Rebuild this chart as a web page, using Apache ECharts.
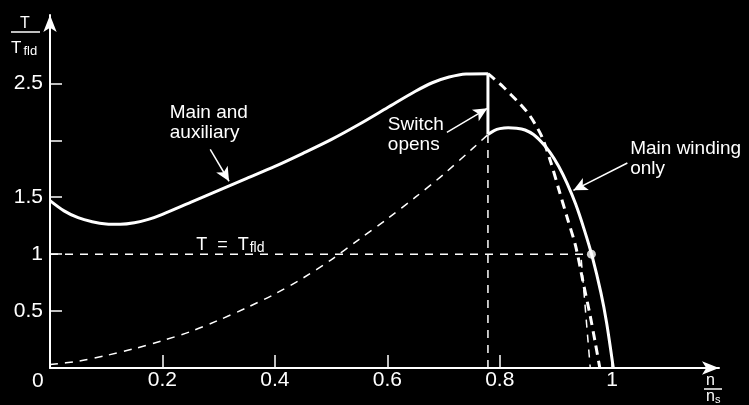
<!DOCTYPE html>
<html>
<head>
<meta charset="utf-8">
<script src="https://cdn.jsdelivr.net/npm/echarts@6/dist/echarts.min.js"></script>
<style>
html,body{margin:0;padding:0;background:#000;}
#c{width:749px;height:405px;}
</style>
</head>
<body>
<div id="c"></div>
<script>
// ---- data (n/ns, T/Tfld) ----
var mainAux = [[0,1.47],[0.025,1.38],[0.05,1.32],[0.075,1.285],[0.10,1.265],[0.125,1.262],[0.15,1.275],[0.175,1.305],[0.20,1.35],[0.25,1.455],[0.30,1.56],[0.35,1.665],[0.40,1.77],[0.45,1.885],[0.50,2.005],[0.55,2.14],[0.60,2.285],[0.65,2.43],[0.68,2.505],[0.71,2.555],[0.74,2.582],[0.779,2.585]];
var switchDrop = [[0.779,2.585],[0.779,2.05]];
var mainOnly = [[0.779,2.05],[0.79,2.085],[0.80,2.102],[0.815,2.11],[0.83,2.106],[0.845,2.09],[0.86,2.05],[0.875,1.98],[0.89,1.89],[0.905,1.77],[0.92,1.62],[0.935,1.44],[0.95,1.22],[0.965,0.97],[0.98,0.66],[0.99,0.40],[1.002,0.0]];
var mainAuxExt = [[0.779,2.585],[0.79,2.54],[0.806,2.47],[0.82,2.40],[0.836,2.32],[0.85,2.24],[0.862,2.15],[0.875,2.03],[0.89,1.82],[0.905,1.57],[0.92,1.32],[0.935,1.07],[0.948,0.76],[0.96,0.48],[0.97,0.22],[0.978,0]];
var loadCurve = [[0,0.03],[0.05,0.06],[0.10,0.11],[0.15,0.17],[0.20,0.24],[0.25,0.32],[0.30,0.42],[0.35,0.53],[0.40,0.65],[0.45,0.79],[0.50,0.95],[0.55,1.13],[0.60,1.31],[0.65,1.50],[0.70,1.70],[0.75,1.92],[0.779,2.05]];
var ratedLine = [[0,1],[0.95,1]];
var switchLine = [[0.779,0],[0.779,2.05]];
var dropLine = [[0.945,0.95],[0.961,0]];
var ratedPoint = [[0.963,1.0]];
var xTickLabels = [0.2,0.4,0.6,0.8,1];
var yTickLabels = [0.5,1,1.5,2.5];
var yTicks = [0.5,1,1.5,2,2.5];
// annotations: [text, n, T] (text box top-left) and arrows [from, to]
var notes = [
  ['Main and\nauxiliary', 0.213, 2.33],
  ['Switch\nopens', 0.601, 2.22],
  ['Main winding\nonly', 1.032, 2.01]
];
var arrows = [
  [[0.285,1.92],[0.3185,1.64]],
  [[0.706,2.07],[0.778,2.28]],
  [[1.027,1.80],[0.931,1.56]]
];

var W = '#ffffff';
var FONT = 'Liberation Sans';
var chart = echarts.init(document.getElementById('c'));

function lineSeries(data, width, dashed, smooth) {
  return {
    type: 'line', data: data, symbol: 'none', smooth: smooth || false,
    lineStyle: {color: W, width: width, type: dashed ? dashed : 'solid'},
    silent: true, animation: false
  };
}

var option = {
  backgroundColor: '#000',
  animation: false,
  grid: {left: 50, right: 30, top: 15, bottom: 37},
  xAxis: {
    type: 'value', min: 0, max: 1.19,
    splitLine: {show: false},
    axisLine: {lineStyle: {color: W, width: 2}, symbol: ['none', 'arrow'], symbolSize: [10, 17]},
    axisTick: {inside: true, length: 13, lineStyle: {color: W, width: 1.5}, customValues: xTickLabels},
    axisLabel: {color: W, fontSize: 21, fontFamily: FONT, margin: 2, customValues: xTickLabels}
  },
  yAxis: {
    type: 'value', min: 0, max: 3.1,
    splitLine: {show: false},
    axisLine: {lineStyle: {color: W, width: 2}, symbol: ['none', 'arrow'], symbolSize: [10, 17]},
    axisTick: {inside: true, length: 12, lineStyle: {color: W, width: 1.5}, customValues: yTicks},
    axisLabel: {color: W, fontSize: 21, fontFamily: FONT, margin: 7, customValues: yTickLabels}
  },
  series: [
    lineSeries(mainAux, 3, null, 0.3),
    lineSeries(switchDrop, 3),
    lineSeries(mainOnly, 3, null, 0.3),
    lineSeries(mainAuxExt, 3, [9, 6], 0.3),
    lineSeries(loadCurve, 1.5, [8, 7], 0.3),
    lineSeries(ratedLine, 1.5, [8, 7]),
    lineSeries(switchLine, 1.5, [8, 7]),
    lineSeries(dropLine, 1.5, [8, 7]),
    {type: 'scatter', data: ratedPoint, symbolSize: 9, itemStyle: {color: W}, silent: true},
    {
      type: 'line', data: [], symbol: 'none',
      markLine: {
        silent: true, symbol: ['none', 'arrow'], symbolSize: [10, 14],
        label: {show: false},
        lineStyle: {color: W, width: 1.5, type: 'solid'},
        data: arrows.map(function (a) { return [{coord: a[0]}, {coord: a[1]}]; })
      }
    }
  ]
};
chart.setOption(option);

var g = [];
notes.forEach(function (n) {
  var p = chart.convertToPixel({gridIndex: 0}, [n[1], n[2]]);
  g.push({type: 'text', left: p[0], top: p[1],
    style: {text: n[0], fill: W, fontSize: 19, fontFamily: FONT, lineHeight: 20}});
});
// T = T_fld label
var pT = chart.convertToPixel({gridIndex: 0}, [0.26, 1.18]);
g.push({type: 'text', x: pT[0], y: pT[1], style: {
  text: '{a|T  =  T}{s|fld}', fill: W, fontFamily: FONT,
  rich: {a: {fontSize: 18, fill: W, fontFamily: FONT}, s: {fontSize: 14, fill: W, fontFamily: FONT, padding: [8, 0, 0, 1]}}
}});
// y axis name
g.push({type: 'text', x: 20, y: 16, style: {text: 'T', fill: W, fontSize: 16, fontFamily: FONT}});
g.push({type: 'line', shape: {x1: 11, y1: 32, x2: 40, y2: 32}, style: {stroke: W, lineWidth: 1.5}});
g.push({type: 'text', x: 11, y: 39, style: {
  text: '{a|T}{s|fld}', fill: W, fontFamily: FONT,
  rich: {a: {fontSize: 17, fill: W, fontFamily: FONT}, s: {fontSize: 13, fill: W, fontFamily: FONT, padding: [6, 0, 0, 2]}}
}});
// x axis name
g.push({type: 'text', x: 706, y: 373, style: {text: 'n', fill: W, fontSize: 16, fontFamily: FONT}});
g.push({type: 'line', shape: {x1: 704, y1: 389, x2: 722, y2: 389}, style: {stroke: W, lineWidth: 1.5}});
g.push({type: 'text', x: 706, y: 388, style: {
  text: '{a|n}{s|s}', fill: W, fontFamily: FONT,
  rich: {a: {fontSize: 16, fill: W, fontFamily: FONT}, s: {fontSize: 11, fill: W, fontFamily: FONT, padding: [6, 0, 0, 0]}}
}});
// origin label
g.push({type: 'text', x: 32, y: 371, style: {text: '0', fill: W, fontSize: 21, fontFamily: FONT}});
chart.setOption({graphic: {elements: g}});
</script>
</body>
</html>
